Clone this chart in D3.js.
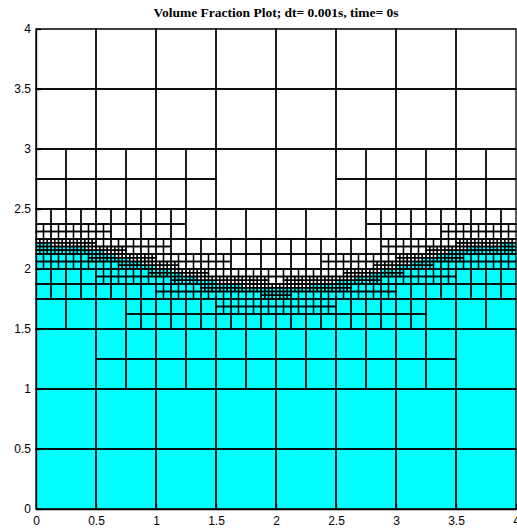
<!DOCTYPE html>
<html>
<head>
<meta charset="utf-8">
<script src="https://cdn.jsdelivr.net/npm/d3@7"></script>
<style>
  body { margin: 0; background: #fff; }
</style>
</head>
<body>
<div id="chart"></div>
<script>
  // interface height (cyan below, white above)
  var interfaceX = [0, 0.25, 0.5, 0.75, 1, 1.25, 1.5, 1.75, 2, 2.25, 2.5, 2.75, 3, 3.25, 3.5, 3.75, 4];
  var interfaceY = [2.21, 2.195, 2.155, 2.085, 2.015, 1.945, 1.89, 1.853, 1.838, 1.853, 1.89, 1.945, 2.015, 2.085, 2.155, 2.195, 2.21];

  // quadtree: base cell size and max distance to the interface that triggers a split, per level
  var domainSize = 4,
      baseCell = 0.5,
      refineGap = [0.56, 0.275, 0.125, 0.031];

  var tickValues = [0, 0.5, 1, 1.5, 2, 2.5, 3, 3.5, 4];
  var titleText = "Volume Fraction Plot; dt= 0.001s, time= 0s";

  var width = 517, height = 530,
      margin = { top: 29, right: 1, bottom: 21, left: 36 },
      plotW = width - margin.left - margin.right,
      plotH = height - margin.top - margin.bottom;

  var svg = d3.select("#chart").append("svg")
      .attr("width", width)
      .attr("height", height);

  var x = d3.scaleLinear().domain([0, domainSize]).range([margin.left, margin.left + plotW]);
  var y = d3.scaleLinear().domain([0, domainSize]).range([margin.top + plotH, margin.top]);

  var iface = d3.scaleLinear().domain(interfaceX).range(interfaceY).clamp(true);

  function samplePoints(x0, x1) {
    var pts = [x0, x1];
    interfaceX.forEach(function(v) { if (v > x0 && v < x1) pts.push(v); });
    return pts;
  }

  // distance between the cell box and the interface curve (0 when it crosses)
  function gap(x0, y0, h) {
    var fy = samplePoints(x0, x0 + h).map(iface),
        lo = d3.min(fy), hi = d3.max(fy);
    if (y0 > hi) return y0 - hi;
    if (y0 + h < lo) return lo - (y0 + h);
    return 0;
  }

  function volumeFraction(x0, y0, h) {
    var xs = d3.range(9).map(function(i) { return x0 + h * (i + 0.5) / 9; });
    return d3.mean(xs, function(v) { return Math.max(0, Math.min(1, (iface(v) - y0) / h)); });
  }

  var cells = [];
  function build(x0, y0, h, level) {
    if (level < refineGap.length && gap(x0, y0, h) < refineGap[level]) {
      var c = h / 2;
      build(x0, y0, c, level + 1);
      build(x0 + c, y0, c, level + 1);
      build(x0, y0 + c, c, level + 1);
      build(x0 + c, y0 + c, c, level + 1);
    } else {
      cells.push({ x0: x0, y0: y0, h: h, vf: volumeFraction(x0, y0, h) });
    }
  }

  d3.range(0, domainSize, baseCell).forEach(function(i) {
    d3.range(0, domainSize, baseCell).forEach(function(j) {
      build(i, j, baseCell, 0);
    });
  });

  var mesh = svg.append("g");

  mesh.selectAll("rect")
    .data(cells)
    .join("rect")
      .attr("x", d => x(d.x0))
      .attr("y", d => y(d.y0 + d.h))
      .attr("width", d => x(d.x0 + d.h) - x(d.x0))
      .attr("height", d => y(d.y0) - y(d.y0 + d.h))
      .attr("fill", d => d.vf > 0.5 ? "#00ffff" : "#ffffff")
      .attr("stroke", "none");

  // cell outlines drawn on top so neighbouring fills don't cover them
  mesh.selectAll("path.edge")
    .data(cells)
    .join("path")
      .attr("class", "edge")
      .attr("d", d => "M" + x(d.x0) + "," + y(d.y0) + "H" + x(d.x0 + d.h) + "V" + y(d.y0 + d.h) + "H" + x(d.x0) + "Z")
      .attr("fill", "none")
      .attr("stroke", "#000")
      .attr("stroke-width", 1.3);

  var fmt = d => String(d);

  var xAxis = svg.append("g")
      .attr("transform", "translate(0," + (margin.top + plotH) + ")")
      .call(d3.axisBottom(x).tickValues(tickValues).tickFormat(fmt)
        .tickSizeInner(-5).tickSizeOuter(0).tickPadding(7));

  var yAxis = svg.append("g")
      .attr("transform", "translate(" + margin.left + ",0)")
      .call(d3.axisLeft(y).tickValues(tickValues).tickFormat(fmt)
        .tickSizeInner(-5).tickSizeOuter(0).tickPadding(5));

  [xAxis, yAxis].forEach(function(a) {
    a.selectAll("text")
        .attr("font-size", "12px")
        .attr("font-family", "'Liberation Sans', Arial, sans-serif")
        .attr("fill", "#000");
    a.selectAll("path, line").attr("stroke", "#000").attr("stroke-width", 1.3);
  });

  svg.append("text")
      .attr("x", margin.left + plotW / 2)
      .attr("y", 17)
      .attr("text-anchor", "middle")
      .attr("font-family", "'Liberation Serif', 'Times New Roman', serif")
      .attr("font-weight", "bold")
      .attr("font-size", "13.5px")
      .text(titleText);
</script>
</body>
</html>
